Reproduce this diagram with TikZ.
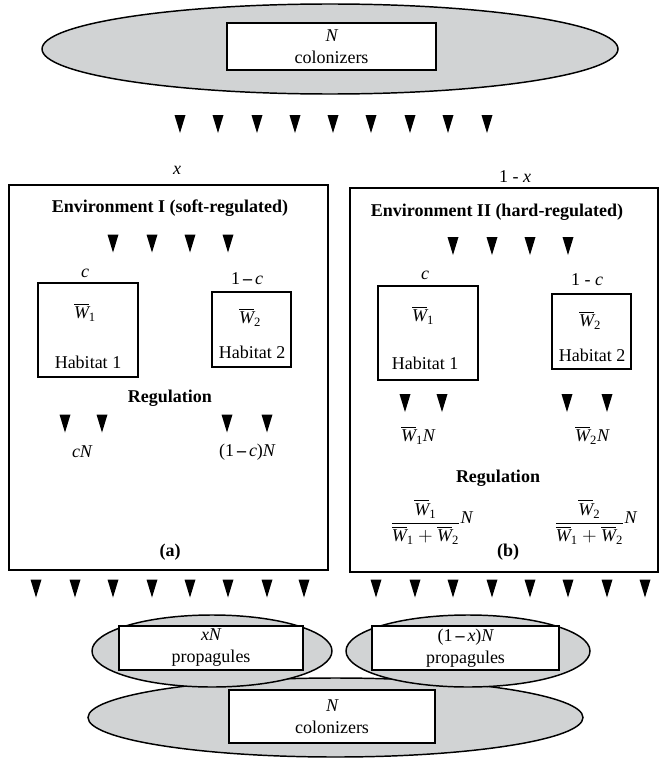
\documentclass[tikz,border=0pt]{standalone}
\usepackage{amsmath}
\usepackage{fontspec}
\setmainfont{Liberation Serif}
\usetikzlibrary{shapes.geometric}
\definecolor{ellgray}{RGB}{209,211,212}
\newcommand\iv[1]{\mbox{\itshape #1}}
\newcommand\sbs[1]{_{\mbox{\fontsize{9.5}{10}\selectfont #1}}}
\newcommand\Wb[1]{\overline{\iv{W}}\sbs{#1}}
\newcommand\mn{\,{\bfseries –}\,}
\tikzset{
  tri/.pic={\fill (-5.5,-9) -- (5.5,-9) -- (0,9) -- cycle;},
  txt/.style={inner sep=0pt, font=\fontsize{13.5}{16}\selectfont},
  bold/.style={txt, font=\fontsize{13.5}{16}\selectfont\bfseries},
  oval/.style={ellipse, draw, line width=1.1pt, fill=ellgray, inner sep=0pt},
  tag/.style={rectangle, draw, line width=1.5pt, fill=white, inner sep=0pt, align=center,
              font=\fontsize{13.5}{16.5}\selectfont},
  envbox/.style={rectangle, draw, line width=1.5pt, inner sep=0pt},
  habbox/.style={rectangle, draw, line width=1.5pt, inner sep=0pt},
}
\begin{document}
\begin{tikzpicture}[x=0.75pt,y=-0.75pt]
\useasboundingbox (0,0) rectangle (660,767);

% top colonizers
\node[oval, minimum width=432pt, minimum height=67.5pt] (topell) at (330,49) {};
\node[tag, minimum width=156.75pt, minimum height=35.25pt] (toprect) at (331.5,46.5) {\iv{N}\\colonizers};
\foreach \x in {180,218,257,295,333,371,410,448,487} \pic at (\x,124) {tri};

% labels
\node[txt] (lx) at (177,170) {\iv{x}};
\node[txt] (l1x) at (515,177) {1 - \iv{x}};

% Environment I
\node[envbox, minimum width=239.25pt, minimum height=288.75pt] (envI) at (168.5,377.5) {};
\node[bold] (envIt) at (170,208) {Environment I (soft-regulated)};
\foreach \x in {113,152,190,228} \pic at (\x,243.5) {tri};
\node[habbox, minimum width=75pt, minimum height=70.5pt] (h1a) at (88,330) {};
\node[habbox, minimum width=59.25pt, minimum height=56.25pt] (h2a) at (251.5,329.5) {};
\node[txt] (ca) at (85,273) {\iv{c}};
\node[txt] (cca) at (247,279) {1\mn\iv{c}};
\node[txt] (w1a) at (85,312) {$\Wb{1}$};
\node[txt] (hab1a) at (88,362) {Habitat 1};
\node[txt] (w2a) at (250,317) {$\Wb{2}$};
\node[txt] (hab2a) at (252,352) {Habitat 2};
\node[bold] (rega) at (170,398) {Regulation};
\foreach \x in {65,102,227,267} \pic at (\x,423.5) {tri};
\node[txt] (cNa) at (82,452) {\iv{cN}};
\node[txt] (ccNa) at (247,452) {(1\mn\iv{c})\iv{N}};
\node[bold] (la) at (170,552) {(a)};

% Environment II
\node[envbox, minimum width=231pt, minimum height=288pt] (envII) at (503.5,380) {};
\node[bold] (envIIt) at (497,212) {Environment II (hard-regulated)};
\foreach \x in {453,492,530,568} \pic at (\x,246) {tri};
\node[habbox, minimum width=75pt, minimum height=70.5pt] (h1b) at (428,333) {};
\node[habbox, minimum width=59.25pt, minimum height=56.25pt] (h2b) at (591.5,331.5) {};
\node[txt] (cb) at (425,275) {\iv{c}};
\node[txt] (ccb) at (587,280) {1 - \iv{c}};
\node[txt] (w1b) at (423,315) {$\Wb{1}$};
\node[txt] (hab1b) at (425,363) {Habitat 1};
\node[txt] (w2b) at (590,320) {$\Wb{2}$};
\node[txt] (hab2b) at (592,355) {Habitat 2};
\foreach \x in {405,442,567,607} \pic at (\x,403) {tri};
\node[txt] (w1N) at (418,435) {$\Wb{1}\iv{N}$};
\node[txt] (w2N) at (592,435) {$\Wb{2}\iv{N}$};
\node[bold] (regb) at (498,478) {Regulation};
\node[txt, anchor=west] (f1) at (390,522) {$\dfrac{\Wb{1}}{\Wb{1}+\Wb{2}}\raisebox{0.6ex}{\iv{N}}$};
\node[txt, anchor=west] (f2) at (554,522) {$\dfrac{\Wb{2}}{\Wb{1}+\Wb{2}}\raisebox{0.6ex}{\iv{N}}$};
\node[bold] (lb) at (508,552) {(b)};

% bottom arrows
\foreach \x in {36,75,113,152,190,228,267,304,376,415,453,492,530,568,607,645} \pic at (\x,588.5) {tri};

% bottom ellipses
\node[oval, minimum width=371.25pt, minimum height=59.25pt] (botell) at (335.5,717.5) {};
\node[oval, minimum width=180pt, minimum height=54pt] (lell) at (212,651) {};
\node[oval, minimum width=183pt, minimum height=54pt] (rell) at (468,651) {};
\node[tag, minimum width=138pt, minimum height=33pt] (lrect) at (211,648) {\iv{xN}\\propagules};
\node[tag, minimum width=140.25pt, minimum height=33pt] (rrect) at (465.5,648) {(1\mn\iv{x})\iv{N}\\propagules};
\node[tag, minimum width=154.5pt, minimum height=39.75pt] (botrect) at (332,716.5) {\iv{N}\\colonizers};
\end{tikzpicture}
\end{document}
